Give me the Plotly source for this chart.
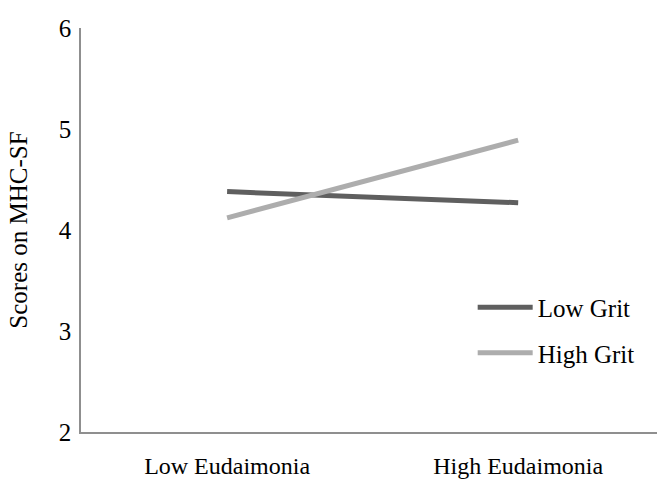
import plotly.graph_objects as go

categories = ["Low Eudaimonia", "High Eudaimonia"]
low_grit = [4.38, 4.27]
high_grit = [4.12, 4.89]
series_names = ["Low Grit", "High Grit"]
y_ticks = [2, 3, 4, 5, 6]

font_family = "Liberation Serif, Times New Roman, serif"

fig = go.Figure()
fig.add_trace(go.Scatter(x=categories, y=low_grit, mode="lines", name=series_names[0],
                         line=dict(color="#5f5f5f", width=5), legendgroup="a"))
fig.add_trace(go.Scatter(x=categories, y=high_grit, mode="lines", name=series_names[1],
                         line=dict(color="#adadad", width=5), legendgroup="b"))

fig.update_layout(
    width=657, height=480,
    margin=dict(l=81, r=0, t=28, b=48),
    paper_bgcolor="white", plot_bgcolor="white",
    font=dict(family=font_family, size=25, color="black"),
    showlegend=True,
    legend=dict(x=0.68, y=0.365, xanchor="left", yanchor="top",
                font=dict(size=25), tracegroupgap=10, bgcolor="rgba(0,0,0,0)",
                itemwidth=55),
    xaxis=dict(type="category", range=[-0.502, 1.477], showline=True, linecolor="#8f8f8f",
               linewidth=1.5, showgrid=False, zeroline=False, ticks="",
               automargin=False, ticklabelstandoff=11, tickfont=dict(size=24)),
    yaxis=dict(range=[2, 6], tickvals=y_ticks, showline=True, linecolor="#8f8f8f",
               linewidth=1.5, showgrid=False, zeroline=False, ticks="",
               automargin=False, ticklabelstandoff=3, tickfont=dict(size=25),
               title=dict(text="Scores on MHC-SF", font=dict(size=25), standoff=24)),
)

fig.write_html("out.html", config={"displayModeBar": False},
               post_script="document.body.style.margin='0';")
